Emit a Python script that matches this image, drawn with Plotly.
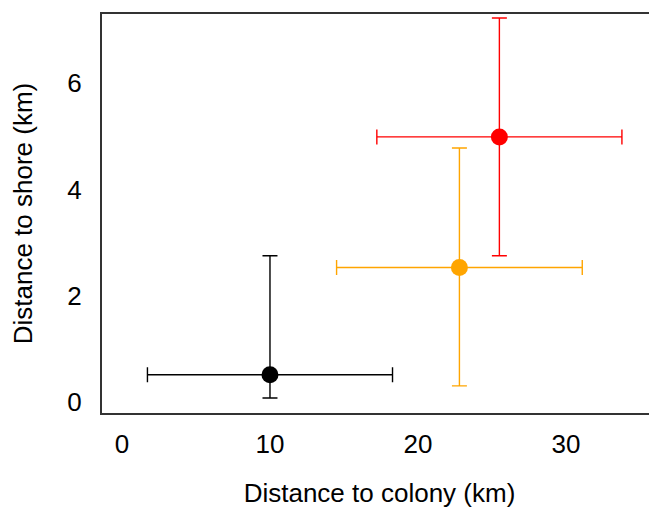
import plotly.graph_objects as go

groups = ["black", "orange", "red"]
colors = ["#000000", "#FFA500", "#FF0000"]
colony_km = [10.0, 22.8, 25.5]
shore_km = [0.51, 2.53, 4.99]
colony_err = [8.28, 8.3, 8.28]
shore_err_plus = [2.24, 2.25, 2.24]
shore_err_minus = [0.44, 2.23, 2.24]

x_ticks = [0, 10, 20, 30]
y_ticks = [0, 2, 4, 6]

fig = go.Figure()
for i, g in enumerate(groups):
    fig.add_trace(go.Scatter(
        x=[colony_km[i]], y=[shore_km[i]], mode="markers", name=g,
        marker=dict(color=colors[i], size=17, line=dict(width=0)),
        error_x=dict(type="data", array=[colony_err[i]], color=colors[i], thickness=1.4, width=7.5),
        error_y=dict(type="data", symmetric=False, array=[shore_err_plus[i]],
                     arrayminus=[shore_err_minus[i]], color=colors[i], thickness=1.4, width=7.5),
        showlegend=False,
    ))

fam = "Liberation Sans, Arial, sans-serif"
tick_font = dict(family=fam, size=26, color="#000000")
title_font = dict(family=fam, size=26, color="#000000")
fig.update_layout(
    width=657, height=510,
    margin=dict(l=94, r=8, t=4, b=105),
    paper_bgcolor="white", plot_bgcolor="white",
    font=tick_font,
    xaxis=dict(range=[-1.35, 36.15], tickvals=x_ticks, showgrid=False, zeroline=False,
               showline=True, linecolor="#333333", linewidth=2, mirror=True,
               ticks="outside", ticklen=7, tickcolor="rgba(0,0,0,0)", tickfont=tick_font,
               title=dict(text="Distance to colony (km)", standoff=26, font=title_font)),
    yaxis=dict(range=[-0.212, 7.306], tickvals=y_ticks, showgrid=False, zeroline=False,
               showline=True, linecolor="#333333", linewidth=2, mirror=False,
               ticks="outside", ticklen=13, tickcolor="rgba(0,0,0,0)", tickfont=tick_font,
               title=dict(text="Distance to shore (km)", standoff=28, font=title_font)),
)

fig.write_html("out.html")
